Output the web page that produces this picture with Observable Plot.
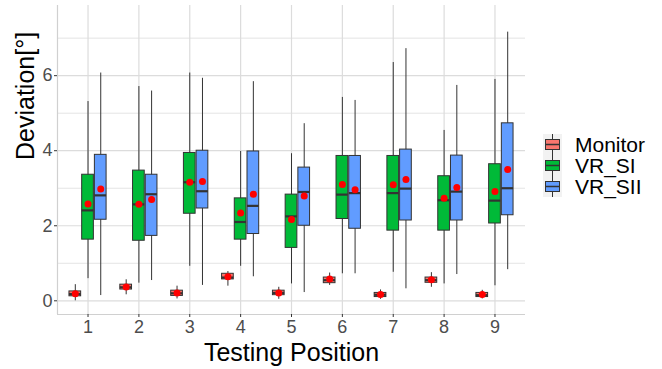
<!DOCTYPE html>
<html><head><meta charset="utf-8">
<script src="https://cdn.jsdelivr.net/npm/d3@7"></script>
<script src="https://cdn.jsdelivr.net/npm/@observablehq/plot@0.6"></script>
<style>
body{margin:0;background:#fff;font-family:"Liberation Sans",Arial,sans-serif;}
#wrap{position:relative;width:662px;height:369px;overflow:hidden;}
#legend{position:absolute;left:543px;top:134px;}
.row{display:flex;align-items:center;height:21px;}
.key{width:19px;height:21px;background:#f2f2f2;}
.lab{margin-left:13px;font-size:21px;color:#000;line-height:21px;}
</style></head><body><div id="wrap"></div>
<script>
const positions = [1, 2, 3, 4, 5, 6, 7, 8, 9];
const groups = ["Monitor", "VR_SI", "VR_SII"];
const colors = ["#F8766D", "#00BA38", "#619CFF"];
const yTicks = [0, 2, 4, 6];
const yMinor = [1, 3, 5, 7];

// Monitor
const monLo   = [0.00, 0.16, 0.05, 0.39, 0.04, 0.41, 0.04, 0.36, 0.05];
const monQ1   = [0.12, 0.30, 0.13, 0.57, 0.15, 0.47, 0.10, 0.48, 0.10];
const monMed  = [0.18, 0.36, 0.20, 0.62, 0.21, 0.55, 0.16, 0.55, 0.15];
const monQ3   = [0.25, 0.43, 0.27, 0.72, 0.27, 0.62, 0.21, 0.62, 0.21];
const monHi   = [0.43, 0.56, 0.39, 0.78, 0.36, 0.74, 0.29, 0.75, 0.28];
const monMean = [0.19, 0.37, 0.21, 0.64, 0.21, 0.58, 0.17, 0.56, 0.17];
// VR_SI
const siLo   = [0.59, 0.47, 0.92, 0.92, 0.45, 0.72, 0.76, 0.45, 0.40];
const siQ1   = [1.63, 1.60, 2.32, 1.63, 1.41, 2.18, 1.87, 1.87, 2.06];
const siMed  = [2.41, 2.57, 3.16, 2.10, 2.25, 2.83, 2.87, 2.68, 2.67];
const siQ3   = [3.36, 3.47, 3.94, 2.73, 2.83, 3.86, 3.86, 3.32, 3.64];
const siHi   = [5.31, 5.71, 6.07, 3.98, 3.92, 5.42, 6.35, 4.54, 5.90];
const siMean = [2.58, 2.57, 3.16, 2.34, 2.17, 3.10, 3.09, 2.73, 2.91];
// VR_SII
const siiLo   = [0.14, 0.54, 0.41, 0.64, 0.22, 0.72, 0.32, 0.70, 0.83];
const siiQ1   = [2.16, 1.73, 2.46, 1.78, 2.00, 1.92, 2.14, 2.14, 2.28];
const siiMed  = [2.81, 2.84, 2.92, 2.53, 2.90, 2.87, 2.99, 2.91, 3.00];
const siiQ3   = [3.89, 3.36, 4.00, 3.98, 3.55, 3.86, 4.03, 3.87, 4.73];
const siiHi   = [6.07, 5.59, 5.93, 5.84, 4.72, 5.34, 6.72, 5.74, 7.16];
const siiMean = [2.98, 2.70, 3.18, 2.84, 2.79, 2.96, 3.23, 3.02, 3.50];

const stats = [
  [monLo, monQ1, monMed, monQ3, monHi, monMean],
  [siLo, siQ1, siMed, siQ3, siHi, siMean],
  [siiLo, siiQ1, siiMed, siiQ3, siiHi, siiMean]
];

const dodge = 0.25, half = 0.115;
const rows = [];
groups.forEach((g, gi) => {
  const [lo, q1, med, q3, hi, mean] = stats[gi];
  positions.forEach((p, i) => {
    const xc = p + (gi - 1) * dodge;
    rows.push({g, xc, x1: xc - half, x2: xc + half, lo: lo[i], q1: q1[i], med: med[i], q3: q3[i], hi: hi[i], mean: mean[i]});
  });
});

const xDomain = [0.4, 9.6];
const yDomain = [-0.365, 7.87];

const chart = Plot.plot({
  width: 662, height: 369,
  marginLeft: 57, marginRight: 137, marginTop: 5, marginBottom: 55,
  style: {fontFamily: "'Liberation Sans', Arial, sans-serif", background: "#fff"},
  x: {domain: xDomain, axis: null},
  y: {domain: yDomain, axis: null},
  color: {domain: groups, range: colors},
  marks: [
    Plot.ruleY(yMinor, {stroke: "#e4e4e4", strokeWidth: 1}),
    Plot.ruleY(yTicks, {stroke: "#dcdcdc", strokeWidth: 1.2}),
    Plot.ruleX(positions, {stroke: "#dcdcdc", strokeWidth: 1.2}),
    Plot.ruleX([xDomain[0]], {stroke: "#d0d0d0", strokeWidth: 1.2}),
    Plot.ruleY([yDomain[0]], {stroke: "#d0d0d0", strokeWidth: 1.2}),
    Plot.axisY(yTicks, {tickSize: 3, tickPadding: 2, fontSize: 18, stroke: "#333", fill: "#4d4d4d", label: null}),
    Plot.axisX(positions, {tickSize: 3, tickPadding: 3, fontSize: 18, stroke: "#333", fill: "#4d4d4d", label: null}),
    Plot.ruleX(rows, {x: "xc", y1: "lo", y2: "hi", stroke: "#333", strokeWidth: 1}),
    Plot.rect(rows, {x1: "x1", x2: "x2", y1: "q1", y2: "q3", fill: "g", stroke: "#333", strokeWidth: 1}),
    Plot.ruleY(rows, {x1: "x1", x2: "x2", y: "med", stroke: "#333", strokeWidth: 2.2}),
    Plot.dot(rows, {x: "xc", y: "mean", r: 3.5, fill: "#ff0000", stroke: "none"}),
    Plot.text(["Deviation[°]"], {frameAnchor: "left", rotate: -90, dx: -32, fontSize: 25, fill: "#000"}),
    Plot.text(["Testing Position"], {frameAnchor: "bottom", dy: 46, fontSize: 25, fill: "#000"})
  ]
});

const wrap = document.getElementById("wrap");
wrap.appendChild(chart);

const legend = document.createElement("div");
legend.id = "legend";
groups.forEach((g, gi) => {
  const row = document.createElement("div");
  row.className = "row";
  const key = document.createElement("div");
  key.className = "key";
  key.innerHTML = `<svg width="19" height="21"><line x1="9.5" x2="9.5" y1="0" y2="21" stroke="#333" stroke-width="1"/><rect x="2.5" y="5.5" width="14" height="10" fill="${colors[gi]}" stroke="#333" stroke-width="1"/><line x1="2.5" x2="16.5" y1="10.5" y2="10.5" stroke="#333" stroke-width="1.5"/></svg>`;
  const lab = document.createElement("span");
  lab.className = "lab";
  lab.textContent = g;
  row.appendChild(key);
  row.appendChild(lab);
  legend.appendChild(row);
});
wrap.appendChild(legend);
</script>
</body></html>
